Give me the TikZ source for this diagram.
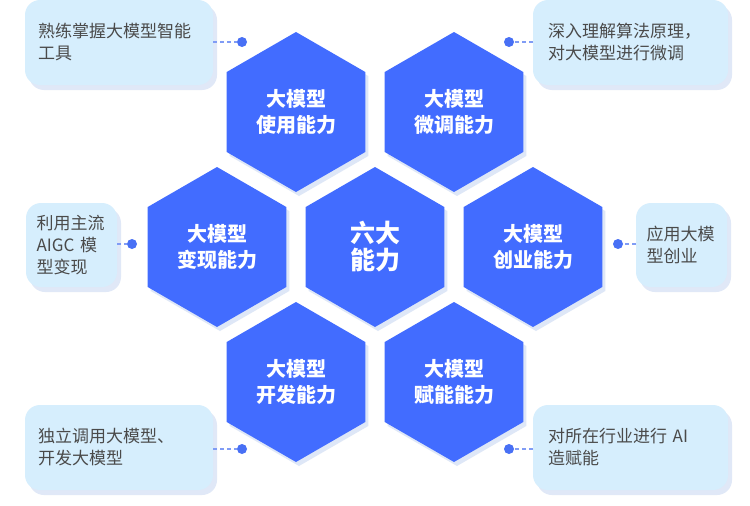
\documentclass[tikz,border=0pt]{standalone}
\usepackage{fontspec}
\setmainfont{Noto Sans CJK SC}
\usetikzlibrary{shapes.geometric,shadows}
\definecolor{hexblue}{RGB}{66,108,255}
\definecolor{hexshadow}{RGB}{222,231,247}
\definecolor{boxfill}{RGB}{214,238,253}
\definecolor{boxshadow}{RGB}{224,232,247}
\definecolor{txtgray}{RGB}{74,74,74}
\definecolor{dotblue}{RGB}{72,112,245}
\definecolor{dashblue}{RGB}{128,156,245}
\begin{document}
\begin{tikzpicture}[x=1pt,y=-1pt,
  hexnode/.style={regular polygon, regular polygon sides=6, shape border rotate=30,
    minimum size=160pt, inner sep=0pt, outer sep=0pt, fill=hexblue, text=white,
    align=center, font=\bfseries\fontsize{20}{26}\selectfont,
    drop shadow={shadow xshift=3pt, shadow yshift=-4pt, fill=hexshadow, opacity=1}},
  callout/.style={rounded corners=15pt, fill=boxfill, text=txtgray, align=left,
    inner ysep=0pt, outer sep=0pt, font=\fontsize{17}{22}\selectfont,
    drop shadow={shadow xshift=4pt, shadow yshift=-5pt, fill=boxshadow, opacity=1}},
  dotnode/.style={circle, fill=dotblue, minimum size=10pt, inner sep=0pt},
  dashconn/.style={draw=dashblue, line width=1.2pt, dash pattern=on 4pt off 3pt}
]
\fill[white] (0,0) rectangle (750,506);
\useasboundingbox (0,0) rectangle (750,506);

% callouts
\node[callout, minimum width=188pt, minimum height=85pt, text width=162pt, inner xsep=13pt] (b1) at (119,42.5) {熟练掌握大模型智能\\工具};
\node[callout, minimum width=195pt, minimum height=85pt, text width=165pt, inner xsep=15pt] (b2) at (630.5,42.5) {深入理解算法原理，\\对大模型进行微调};
\node[callout, minimum width=91pt, minimum height=84pt, text width=70pt, inner xsep=10.5pt] (b3) at (71.5,245) {利用主流\\AIGC 模\\型变现};
\node[callout, minimum width=91pt, minimum height=84pt, text width=70pt, inner xsep=10.5pt] (b4) at (681.5,245) {应用大模\\型创业};
\node[callout, minimum width=188pt, minimum height=85pt, text width=162pt, inner xsep=13pt] (b5) at (119,447.5) {独立调用大模型、\\开发大模型};
\node[callout, minimum width=195pt, minimum height=85pt, text width=165pt, inner xsep=15pt] (b6) at (630.5,447.5) {对所在行业进行 AI\\造赋能};

% hexagons
\node[hexnode] (h1) at (296,112) {大模型\\使用能力};
\node[hexnode] (h2) at (454,112) {大模型\\微调能力};
\node[hexnode] (h3) at (217,247) {大模型\\变现能力};
\node[hexnode, font=\bfseries\fontsize{25}{27}\selectfont] (h4) at (375,247) {六大\\能力};
\node[hexnode] (h5) at (533,247) {大模型\\创业能力};
\node[hexnode] (h6) at (296,382) {大模型\\开发能力};
\node[hexnode] (h7) at (454,382) {大模型\\赋能能力};

% dots
\node[dotnode] (d1) at (242,42) {};
\node[dotnode] (d2) at (509,42) {};
\node[dotnode] (d3) at (132,244) {};
\node[dotnode] (d4) at (618,244) {};
\node[dotnode] (d5) at (242,449) {};
\node[dotnode] (d6) at (509,449) {};

% connectors
\draw[dashconn] (b1.east |- d1) -- (d1.west);
\draw[dashconn] (b2.west |- d2) -- (d2.east);
\draw[dashconn] (b3.east |- d3) -- (d3.west);
\draw[dashconn] (b4.west |- d4) -- (d4.east);
\draw[dashconn] (b5.east |- d5) -- (d5.west);
\draw[dashconn] (b6.west |- d6) -- (d6.east);
\end{tikzpicture}
\end{document}
